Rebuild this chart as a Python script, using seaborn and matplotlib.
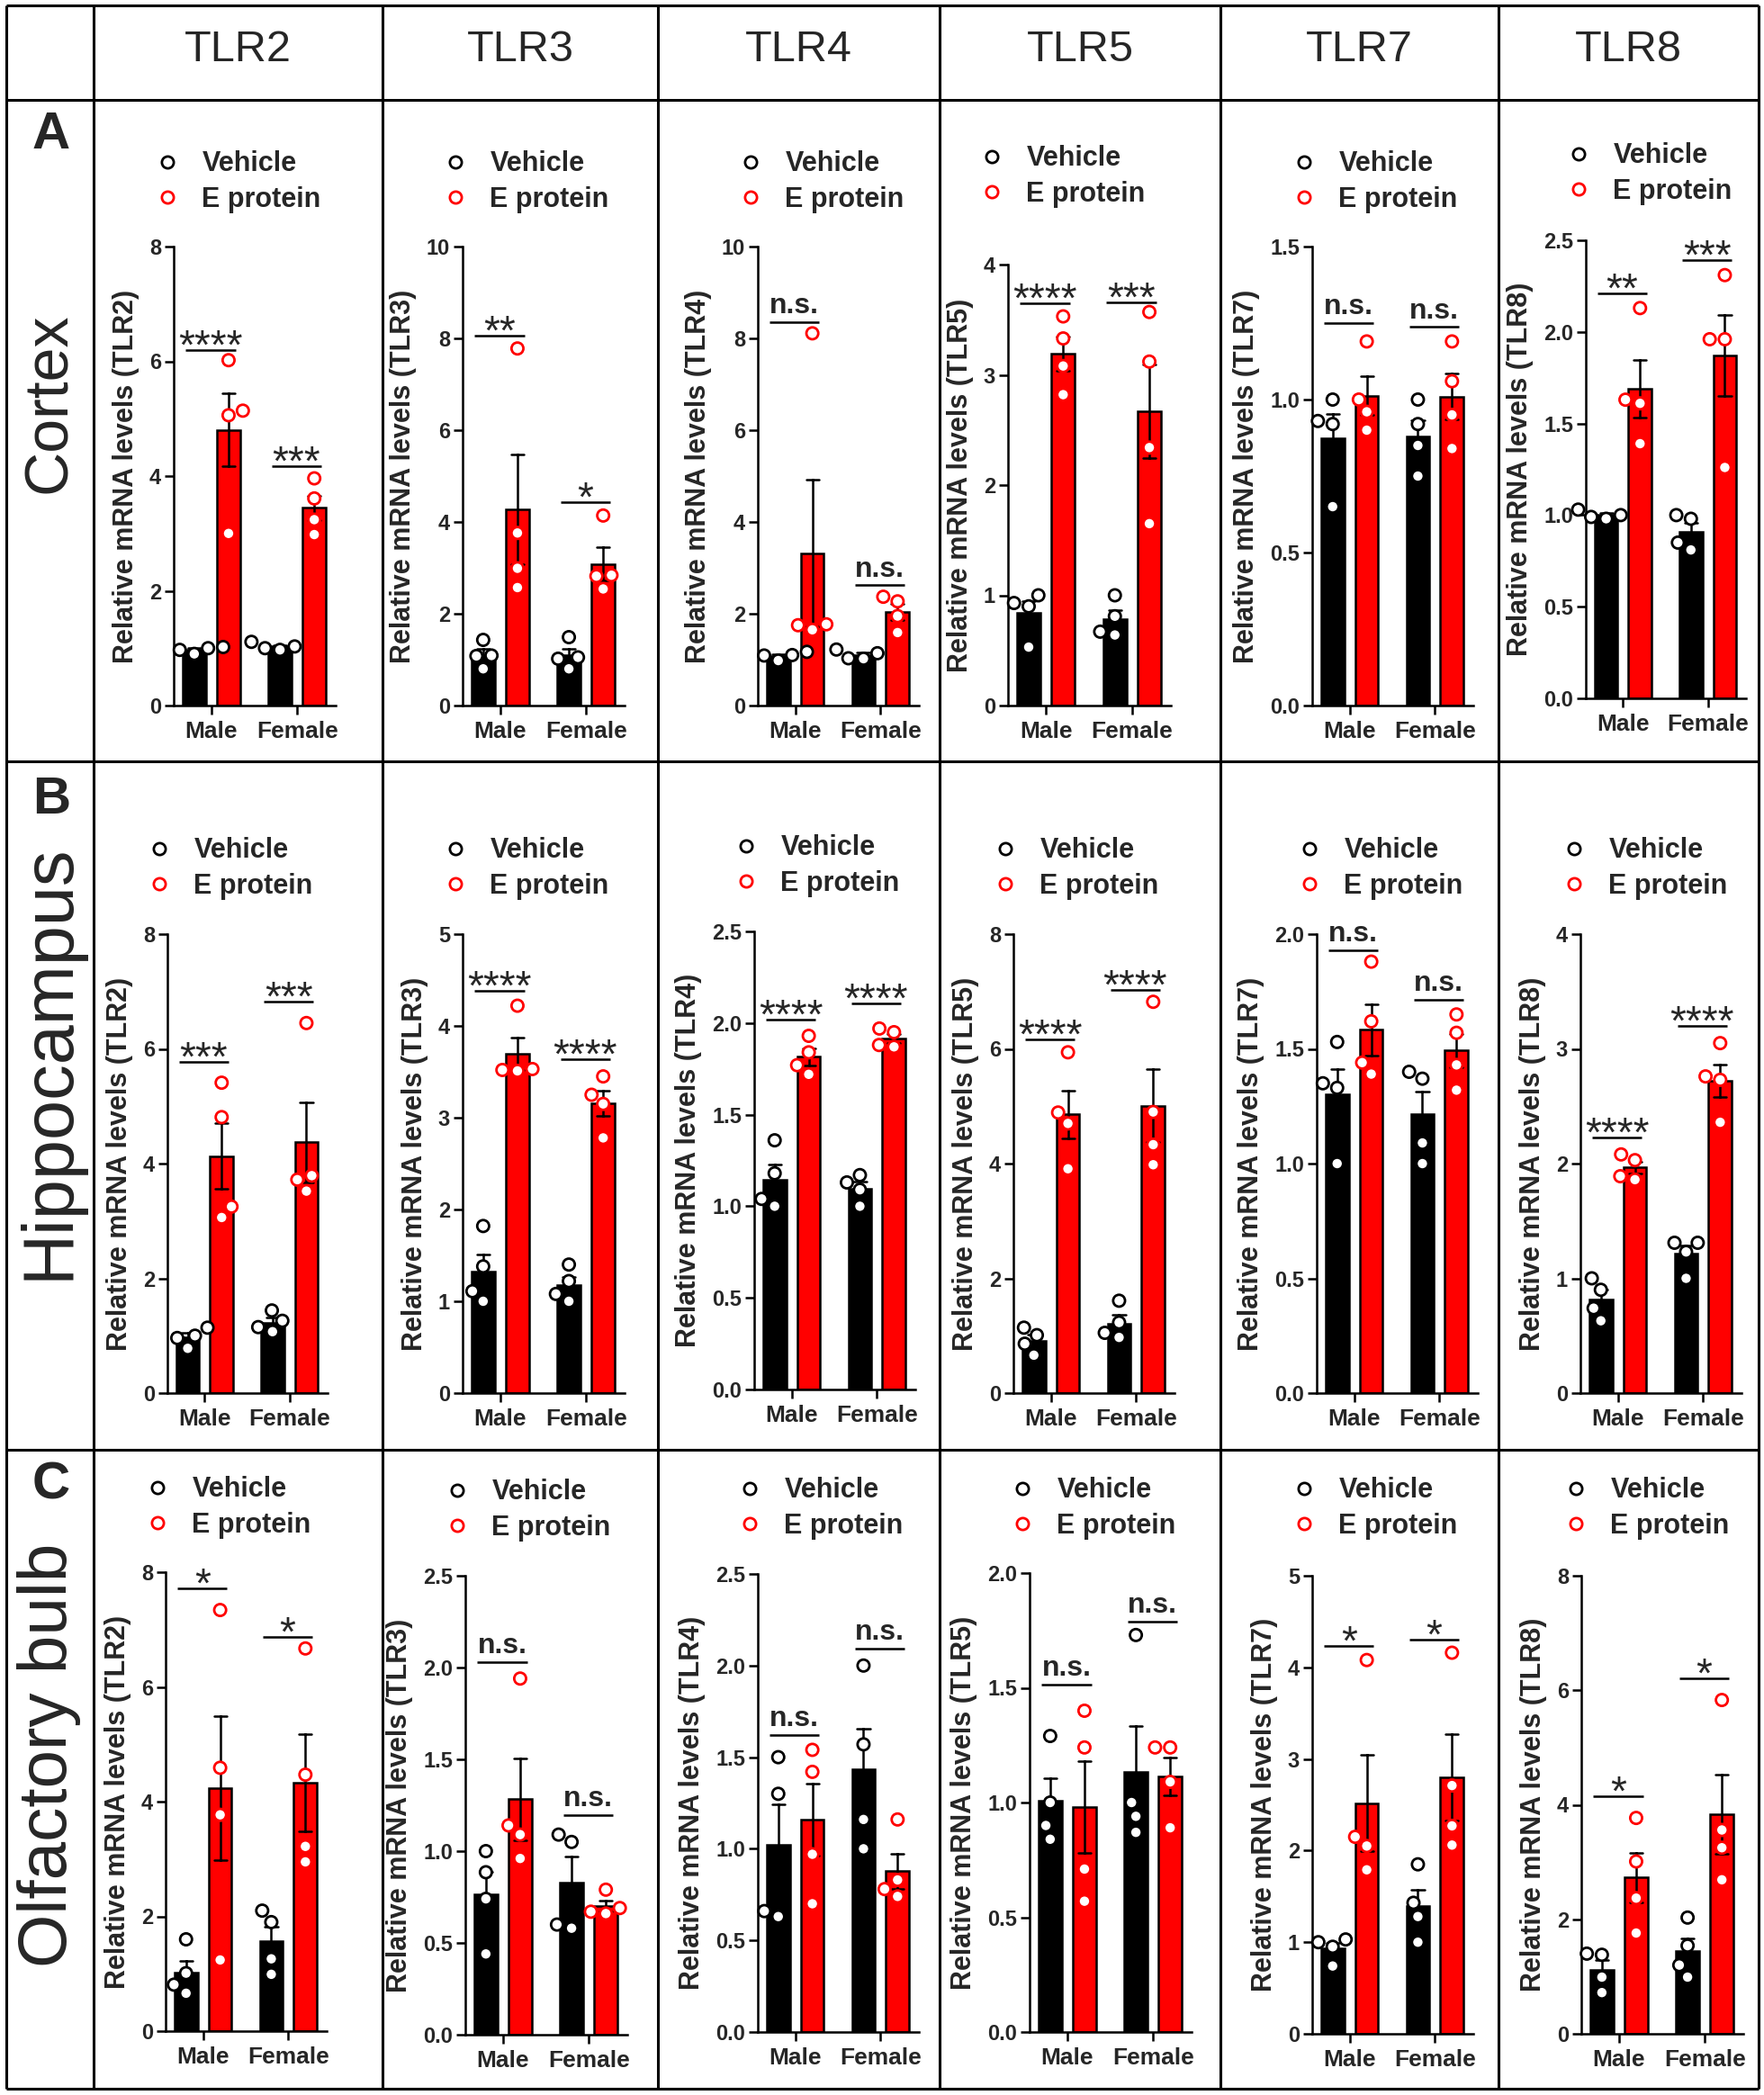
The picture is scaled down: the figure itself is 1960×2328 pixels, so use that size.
"""
plot.py - TLR2-8 mRNA levels, Vehicle vs E protein, by sex and brain region.
Bars = mean +/- SEM of the individual animals (open circles).
"""

import numpy as np
import pandas as pd
import matplotlib
matplotlib.use("Agg")
import matplotlib.pyplot as plt
from matplotlib.lines import Line2D
import seaborn as sns

# ---- data ---------------------------------------------------------------
REGIONS = ["Cortex", "Hippocampus", "Olfactory bulb"]
PANEL_TAGS = ["A", "B", "C"]
GENES = ["TLR2", "TLR3", "TLR4", "TLR5", "TLR7", "TLR8"]
SEXES = ["Male", "Female"]
GROUPS = ["Vehicle", "E protein"]

# each panel: [male vehicle, male E protein, female vehicle, female E protein]
ctx_tlr2 = [[1.00, 0.90, 1.02, 0.97], [6.02, 5.14, 5.06, 3.00],
            [1.03, 0.97, 1.11, 1.00], [3.96, 3.61, 3.24, 2.98]]
ctx_tlr3 = [[1.43, 1.09, 0.80, 1.08], [7.78, 3.76, 2.99, 2.57],
            [1.49, 1.05, 0.80, 1.02], [4.14, 2.84, 2.82, 2.54]]
ctx_tlr4 = [[1.09, 0.98, 1.17, 1.10], [8.11, 1.77, 1.65, 1.75],
            [1.14, 1.02, 1.03, 1.22], [2.37, 2.27, 1.95, 1.59]]
ctx_tlr5 = [[1.00, 0.90, 0.53, 0.93], [3.53, 3.33, 3.08, 2.82],
            [1.00, 0.81, 0.64, 0.67], [3.57, 3.12, 2.34, 1.65]]
ctx_tlr7 = [[1.00, 0.93, 0.92, 0.65], [1.19, 1.00, 0.96, 0.90],
            [1.00, 0.92, 0.85, 0.75], [1.19, 1.06, 0.95, 0.84]]
ctx_tlr8 = [[1.00, 0.98, 1.03, 0.99], [2.13, 1.63, 1.61, 1.39],
            [1.00, 0.98, 0.85, 0.81], [2.31, 1.96, 1.96, 1.26]]

hip_tlr2 = [[1.14, 1.00, 0.96, 0.78], [5.41, 4.81, 3.25, 3.06],
            [1.44, 1.26, 1.15, 1.07], [6.45, 3.79, 3.72, 3.52]]
hip_tlr3 = [[1.82, 1.38, 1.11, 1.00], [4.22, 3.52, 3.53, 3.51],
            [1.40, 1.22, 1.08, 1.00], [3.45, 3.25, 3.15, 2.78]]
hip_tlr4 = [[1.36, 1.18, 1.04, 1.00], [1.93, 1.84, 1.77, 1.72],
            [1.17, 1.09, 1.00, 1.13], [1.97, 1.95, 1.87, 1.88]]
hip_tlr5 = [[1.14, 1.01, 0.86, 0.66], [5.94, 4.89, 4.70, 3.91],
            [1.61, 1.23, 0.97, 1.05], [6.82, 4.90, 4.33, 3.98]]
hip_tlr7 = [[1.53, 1.35, 1.33, 1.00], [1.88, 1.62, 1.44, 1.39],
            [1.40, 1.37, 1.09, 1.00], [1.65, 1.57, 1.43, 1.32]]
hip_tlr8 = [[1.00, 0.90, 0.74, 0.63], [2.08, 2.03, 1.86, 1.89],
            [1.31, 1.31, 1.23, 1.00], [3.05, 2.76, 2.73, 2.36]]

ob_tlr2 = [[1.60, 1.01, 0.81, 0.66], [7.34, 4.59, 3.77, 1.24],
           [2.10, 1.90, 1.26, 0.99], [6.67, 4.47, 3.22, 2.95]]
ob_tlr3 = [[1.00, 0.885, 0.74, 0.44], [1.94, 1.14, 1.09, 0.96],
           [1.09, 1.05, 0.58, 0.60], [0.79, 0.69, 0.67, 0.66]]
ob_tlr4 = [[1.50, 1.30, 0.66, 0.63], [1.54, 1.42, 0.97, 0.70],
           [2.00, 1.57, 1.16, 1.00], [1.16, 0.83, 0.78, 0.74]]
ob_tlr5 = [[1.29, 1.00, 0.90, 0.84], [1.40, 1.24, 0.71, 0.57],
           [1.73, 1.00, 0.94, 0.87], [1.24, 1.24, 1.09, 0.89]]
ob_tlr7 = [[1.03, 1.00, 0.95, 0.74], [4.08, 2.15, 2.05, 1.79],
           [1.85, 1.43, 1.28, 1.00], [4.16, 2.71, 2.27, 2.06]]
ob_tlr8 = [[1.40, 1.38, 0.99, 0.72], [3.77, 3.01, 2.37, 1.76],
           [2.03, 1.54, 1.20, 0.99], [5.83, 3.56, 3.25, 2.69]]

POINTS = [
    [ctx_tlr2, ctx_tlr3, ctx_tlr4, ctx_tlr5, ctx_tlr7, ctx_tlr8],
    [hip_tlr2, hip_tlr3, hip_tlr4, hip_tlr5, hip_tlr7, hip_tlr8],
    [ob_tlr2, ob_tlr3, ob_tlr4, ob_tlr5, ob_tlr7, ob_tlr8],
]

Y_MAX = [[8, 10, 10, 4, 1.5, 2.5],
         [8, 5, 2.5, 8, 2.0, 4],
         [8, 2.5, 2.5, 2.0, 5, 8]]
Y_STEP = [[2, 2, 2, 1, 0.5, 0.5],
          [2, 1, 0.5, 2, 0.5, 1],
          [2, 0.5, 0.5, 0.5, 1, 2]]

# significance (male, female) per panel
SIG_LABELS = [
    [("****", "***"), ("**", "*"), ("n.s.", "n.s."), ("****", "***"),
     ("n.s.", "n.s."), ("**", "***")],
    [("***", "***"), ("****", "****"), ("****", "****"), ("****", "****"),
     ("n.s.", "n.s."), ("****", "****")],
    [("*", "*"), ("n.s.", "n.s."), ("n.s.", "n.s."), ("n.s.", "n.s."),
     ("*", "*"), ("*", "*")],
]
SIG_Y = [
    [(6.2, 4.17), (8.06, 4.44), (8.35, 2.62), (3.65, 3.66), (1.25, 1.237),
     (2.21, 2.39)],
    [(5.77, 6.83), (4.38, 3.64), (2.02, 2.105), (6.17, 7.03), (1.93, 1.714),
     (2.23, 3.20)],
    [(7.72, 6.87), (2.03, 1.196), (1.62, 2.092), (1.515, 1.79), (4.235, 4.30),
     (4.15, 6.215)],
]

# ---- layout (figure pixels) ---------------------------------------------
W, H = 1960, 2328
AX_BOX = [  # left, top, right, bottom
    [(193, 274, 373, 784), (514, 274, 694, 784), (842, 274, 1021, 784),
     (1120, 294, 1301, 784), (1458, 274, 1637, 784), (1762, 267, 1940, 776)],
    [(186, 1038, 364, 1548), (514, 1038, 694, 1548), (838, 1035, 1017, 1544),
     (1126, 1038, 1305, 1548), (1463, 1038, 1642, 1548), (1756, 1038, 1935, 1548)],
    [(184, 1747, 363, 2257), (517, 1751, 697, 2261), (842, 1749, 1021, 2258),
     (1144, 1748, 1324, 2258), (1458, 1751, 1637, 2260), (1757, 1751, 1937, 2260)],
]
LEG_POS = [  # centre of the first legend marker
    [(186, 182), (506, 182), (834, 182), (1102, 176), (1449, 182), (1754, 173)],
    [(177, 945), (506, 945), (829, 942), (1117, 945), (1455, 945), (1749, 945)],
    [(175, 1655), (508, 1658), (833, 1656), (1136, 1656), (1449, 1656), (1751, 1656)],
]
GRID_X = [7, 104, 425, 731, 1044, 1356, 1665, 1954]
GRID_Y = [6, 111, 846, 1611, 2321]
HEADER_Y = 55
TAG_Y = [150, 889, 1651]
REGION_Y = [448, 1180, 1950]
REGION_SIZE = [49, 57, 55]

PAL = {"Vehicle": "black", "E protein": "#ff0000"}
LW = 1.8
MARK = 9.5
MARK_LW = 2.0

sns.set_theme(style="ticks")
plt.rcParams["font.family"] = ["Liberation Sans", "DejaVu Sans"]


def draw_panel(fig, ax, pts, ymax, ystep, gene, sig_lab, sig_y, leg_xy):
    rows = []
    for si, sex in enumerate(SEXES):
        for gi, grp in enumerate(GROUPS):
            for v in pts[si * 2 + gi]:
                rows.append((sex, grp, v))
    df = pd.DataFrame(rows, columns=["sex", "group", "value"])

    sns.barplot(data=df, x="sex", y="value", hue="group", order=SEXES,
                hue_order=GROUPS, palette=PAL, saturation=1, errorbar="se",
                capsize=0.3, err_kws={"color": "black", "linewidth": LW},
                edgecolor="black", linewidth=LW, width=0.8, gap=0.32,
                legend=False, ax=ax)
    n0 = len(ax.collections)
    sns.swarmplot(data=df, x="sex", y="value", hue="group", order=SEXES,
                  hue_order=GROUPS, palette=PAL, dodge=True, size=MARK,
                  linewidth=MARK_LW, legend=False, ax=ax)
    # open circles: coloured edge, white face
    for coll in ax.collections[n0:]:
        fc = coll.get_facecolors()
        coll.set_edgecolors(fc)
        coll.set_facecolors("white")
        coll.set_linewidth(MARK_LW)
        coll.set_zorder(4)
        coll.set_clip_on(False)

    ax.set_ylim(0, ymax)
    ax.set_xlim(-0.44, 1.45)
    ticks = np.arange(0, ymax + ystep / 2, ystep)
    ax.set_yticks(ticks)
    fmt = "{:.1f}" if ystep < 1 else "{:.0f}"
    ax.set_yticklabels([fmt.format(t) for t in ticks], fontsize=17,
                       fontweight="bold")
    ax.set_xticks([0, 1])
    ax.set_xticklabels(SEXES, fontsize=19, fontweight="bold")
    ax.set_xlabel("")
    ax.set_ylabel(f"Relative mRNA levels ({gene})", fontsize=22,
                  fontweight="bold", labelpad=8)
    ax.tick_params(axis="both", width=LW, length=7, color="black")
    ax.tick_params(axis="y", pad=3)
    ax.tick_params(axis="x", pad=5)
    sns.despine(ax=ax)
    for side in ("left", "bottom"):
        ax.spines[side].set_linewidth(LW)
        ax.spines[side].set_color("black")
    ax.set_facecolor("none")

    # significance brackets
    for i, (lab, y) in enumerate(zip(sig_lab, sig_y)):
        ax.plot([i - 0.3, i + 0.28], [y, y], color="black", lw=LW,
                clip_on=False, solid_capstyle="butt")
        if lab == "n.s.":
            ax.annotate(lab, xy=(i - 0.01, y), xytext=(0, 7),
                        textcoords="offset points", ha="center",
                        va="baseline", fontsize=23, fontweight="bold",
                        annotation_clip=False)
        else:
            ax.annotate(lab, xy=(i - 0.01, y), xytext=(0, -7),
                        textcoords="offset points", ha="center",
                        va="baseline", fontsize=33, annotation_clip=False)

    # legend above the axes
    handles = [Line2D([], [], marker="o", ls="none", mfc="white", mec=PAL[g],
                      mew=MARK_LW, ms=MARK) for g in GROUPS]
    lx, ly = leg_xy
    ax.legend(handles, GROUPS, loc="center left",
              bbox_to_anchor=((lx - 15) / W, 1 - (ly + 20) / H),
              bbox_transform=fig.transFigure, frameon=False, borderpad=0,
              borderaxespad=0, handlelength=1.0, handletextpad=0.75,
              labelspacing=0.3, prop={"weight": "bold", "size": 22})


def main():
    fig = plt.figure(figsize=(W / 100, H / 100), dpi=100)
    fig.patch.set_facecolor("white")

    # table frame, headers and row labels
    bg = fig.add_axes([0, 0, 1, 1], zorder=-1)
    bg.set_xlim(0, W)
    bg.set_ylim(H, 0)
    bg.axis("off")
    bg.vlines(GRID_X, GRID_Y[0], GRID_Y[-1], color="black", lw=2.2)
    bg.hlines(GRID_Y, GRID_X[0], GRID_X[-1], color="black", lw=2.2)
    for c, gene in enumerate(GENES):
        cx = (GRID_X[c + 1] + GRID_X[c + 2]) / 2
        bg.text(cx, HEADER_Y, gene, ha="center", va="center", fontsize=35)
    for r, region in enumerate(REGIONS):
        bg.text(57, TAG_Y[r], PANEL_TAGS[r], ha="center", va="center",
                fontsize=42, fontweight="bold")
        bg.text(55, REGION_Y[r], region, ha="center", va="center",
                rotation=90, fontsize=REGION_SIZE[r])

    for r in range(len(REGIONS)):
        for c, gene in enumerate(GENES):
            l, t, rr, b = AX_BOX[r][c]
            ax = fig.add_axes([l / W, 1 - b / H, (rr - l) / W, (b - t) / H])
            draw_panel(fig, ax, POINTS[r][c], Y_MAX[r][c], Y_STEP[r][c],
                       gene, SIG_LABELS[r][c], SIG_Y[r][c], LEG_POS[r][c])

    fig.savefig("out.png", dpi=100, facecolor="white")
    plt.close(fig)


if __name__ == "__main__":
    main()
